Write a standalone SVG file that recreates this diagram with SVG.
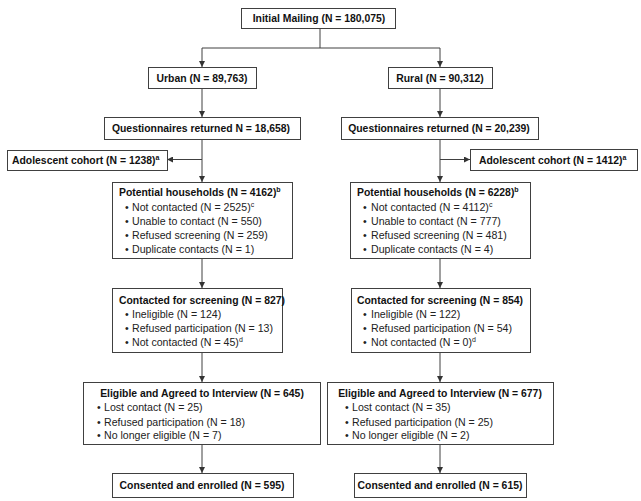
<svg xmlns="http://www.w3.org/2000/svg" width="641" height="501" viewBox="0 0 641 501">
<defs>
<marker id="arr" viewBox="0 0 10 10" refX="10" refY="5" markerWidth="6" markerHeight="6" markerUnits="userSpaceOnUse" orient="auto">
<path d="M0,0 L10,5 L0,10 z" fill="#333"/>
</marker>
<style>
.box{fill:#fff;stroke:#404040;stroke-width:1}
.t{font-family:"Liberation Sans",Arial,sans-serif;font-size:10.4px;font-weight:bold;fill:#111}
.b{font-family:"Liberation Sans",Arial,sans-serif;font-size:10.6px;fill:#222}
.m{text-anchor:middle}
.s{font-size:7px}
.c line, .c polyline{stroke:#404040;stroke-width:1;fill:none}
.c .a{marker-end:url(#arr)}
</style>
</defs>
<rect width="641" height="501" fill="#fff"/>
<g class="c" id="connectors">
<line x1="320" y1="28" x2="320" y2="48"/>
<line x1="202" y1="48" x2="440" y2="48"/>
<line class="a" x1="202" y1="48" x2="202" y2="67"/>
<line class="a" x1="440" y1="48" x2="440" y2="67"/>
<line class="a" x1="202" y1="88" x2="202" y2="117"/>
<line class="a" x1="440" y1="88" x2="440" y2="117"/>
<line class="a" x1="202" y1="139" x2="202" y2="182"/>
<line class="a" x1="440" y1="139" x2="440" y2="182"/>
<line class="a" x1="202" y1="159.5" x2="167" y2="159.5"/>
<line class="a" x1="440" y1="159.5" x2="470" y2="159.5"/>
<line class="a" x1="202" y1="258" x2="202" y2="288"/>
<line class="a" x1="440" y1="258" x2="440" y2="288"/>
<line class="a" x1="202" y1="352" x2="202" y2="382"/>
<line class="a" x1="440" y1="352" x2="440" y2="382"/>
<line class="a" x1="202" y1="444" x2="202" y2="473"/>
<line class="a" x1="440" y1="444" x2="440" y2="473"/>
</g>
<g id="initial"><rect class="box" x="241.5" y="8.5" width="154" height="20"/><text class="t m" x="319" y="22">Initial Mailing (N = 180,075)</text></g>
<g id="urban"><rect class="box" x="148.5" y="67.5" width="108" height="21"/><text class="t m" x="202" y="81.5">Urban (N = 89,763)</text></g>
<g id="rural"><rect class="box" x="388.5" y="67.5" width="104" height="21"/><text class="t m" x="440" y="81.5">Rural (N = 90,312)</text></g>
<g id="q-urban"><rect class="box" x="104.5" y="117.5" width="196" height="22"/><text class="t m" x="201" y="132">Questionnaires returned N = 18,658)</text></g>
<g id="q-rural"><rect class="box" x="341.5" y="117.5" width="197" height="22"/><text class="t m" x="439" y="132">Questionnaires returned (N = 20,239)</text></g>
<g id="adol-urban"><rect class="box" x="7.5" y="150.5" width="160" height="20"/><text class="t" x="12" y="164">Adolescent cohort (N = 1238)<tspan class="s" dy="-4">a</tspan></text></g>
<g id="adol-rural"><rect class="box" x="470.5" y="149.5" width="167" height="21"/><text class="t" x="479" y="164">Adolescent cohort (N = 1412)<tspan class="s" dy="-4">a</tspan></text></g>
<g id="pot-urban"><rect class="box" x="112.5" y="182.5" width="180" height="76"/>
<text class="t" x="119" y="196">Potential households (N = 4162)<tspan class="s" dy="-4">b</tspan></text>
<text class="b" x="125" y="210.5">•</text><text class="b" x="132" y="210.5">Not contacted (N = 2525)<tspan class="s" dy="-4">c</tspan></text>
<text class="b" x="125" y="224.5">•</text><text class="b" x="132" y="224.5">Unable to contact (N = 550)</text>
<text class="b" x="125" y="239">•</text><text class="b" x="132" y="239">Refused screening (N = 259)</text>
<text class="b" x="125" y="253">•</text><text class="b" x="132" y="253">Duplicate contacts (N = 1)</text>
</g>
<g id="pot-rural"><rect class="box" x="350.5" y="182.5" width="180" height="76"/>
<text class="t" x="357" y="196">Potential households (N = 6228)<tspan class="s" dy="-4">b</tspan></text>
<text class="b" x="363" y="210.5">•</text><text class="b" x="371" y="210.5">Not contacted (N = 4112)<tspan class="s" dy="-4">c</tspan></text>
<text class="b" x="363" y="224.5">•</text><text class="b" x="371" y="224.5">Unable to contact (N = 777)</text>
<text class="b" x="363" y="239">•</text><text class="b" x="371" y="239">Refused screening (N = 481)</text>
<text class="b" x="363" y="253">•</text><text class="b" x="371" y="253">Duplicate contacts (N = 4)</text>
</g>
<g id="cont-urban"><rect class="box" x="112.5" y="288.5" width="170" height="64"/>
<text class="t" x="119" y="303.5">Contacted for screening (N = 827)</text>
<text class="b" x="125" y="317.5">•</text><text class="b" x="132" y="317.5">Ineligible (N = 124)</text>
<text class="b" x="125" y="331.5">•</text><text class="b" x="132" y="331.5">Refused participation (N = 13)</text>
<text class="b" x="125" y="345.5">•</text><text class="b" x="132" y="345.5">Not contacted (N = 45)<tspan class="s" dy="-4">d</tspan></text>
</g>
<g id="cont-rural"><rect class="box" x="351.5" y="288.5" width="179" height="64"/>
<text class="t" x="357" y="303.5">Contacted for screening (N = 854)</text>
<text class="b" x="363" y="317.5">•</text><text class="b" x="371" y="317.5">Ineligible (N = 122)</text>
<text class="b" x="363" y="331.5">•</text><text class="b" x="371" y="331.5">Refused participation (N = 54)</text>
<text class="b" x="363" y="345.5">•</text><text class="b" x="371" y="345.5">Not contacted (N = 0)<tspan class="s" dy="-4">d</tspan></text>
</g>
<g id="elig-urban"><rect class="box" x="83.5" y="382.5" width="237" height="62"/>
<text class="t m" x="202" y="397">Eligible and Agreed to Interview (N = 645)</text>
<text class="b" x="97" y="411">•</text><text class="b" x="104" y="411">Lost contact (N = 25)</text>
<text class="b" x="97" y="425.5">•</text><text class="b" x="104" y="425.5">Refused participation (N = 18)</text>
<text class="b" x="97" y="439">•</text><text class="b" x="104" y="439">No longer eligible (N = 7)</text>
</g>
<g id="elig-rural"><rect class="box" x="327.5" y="382.5" width="226" height="62"/>
<text class="t m" x="440" y="397">Eligible and Agreed to Interview (N = 677)</text>
<text class="b" x="345" y="411">•</text><text class="b" x="352" y="411">Lost contact (N = 35)</text>
<text class="b" x="345" y="425.5">•</text><text class="b" x="352" y="425.5">Refused participation (N = 25)</text>
<text class="b" x="345" y="439">•</text><text class="b" x="352" y="439">No longer eligible (N = 2)</text>
</g>
<g id="cons-urban"><rect class="box" x="112.5" y="473.5" width="181" height="24"/><text class="t m" x="202" y="489">Consented and enrolled (N = 595)</text></g>
<g id="cons-rural"><rect class="box" x="354.5" y="473.5" width="172" height="24"/><text class="t m" x="440" y="489">Consented and enrolled (N = 615)</text></g>
</svg>
